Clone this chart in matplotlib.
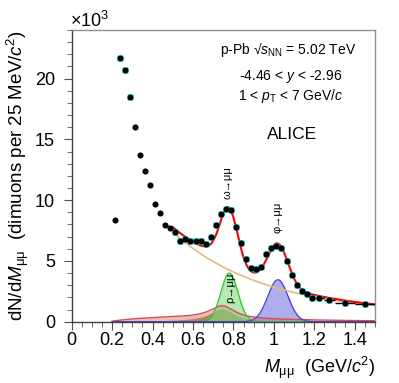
import numpy as np
import matplotlib
matplotlib.use("Agg")
import matplotlib.pyplot as plt
from matplotlib.ticker import MultipleLocator, FixedLocator

plt.rcParams['font.family'] = ['Liberation Sans', 'DejaVu Sans']
plt.rcParams['mathtext.fontset'] = 'custom'
plt.rcParams['mathtext.rm'] = 'Liberation Sans'
plt.rcParams['mathtext.it'] = 'Liberation Sans:italic'
plt.rcParams['mathtext.bf'] = 'Liberation Sans:bold'

# ---------------- data (counts in units of 10^3) ----------------
mass = [0.2125, 0.2375, 0.2625, 0.2875, 0.3125, 0.3375, 0.3625, 0.3875,
        0.4125, 0.4375, 0.4625, 0.4875, 0.5125, 0.5375, 0.5625, 0.5875,
        0.6125, 0.6375, 0.6625, 0.6875, 0.7125, 0.7375, 0.7625, 0.7875,
        0.8125, 0.8375, 0.8625, 0.8875, 0.9125, 0.9375, 0.9625, 0.9875,
        1.0125, 1.0375, 1.0625, 1.0875, 1.1125, 1.1375, 1.1625, 1.1875,
        1.225, 1.275, 1.35, 1.45]
counts = [8.37, 21.72, 20.67, 18.48, 15.99, 13.73, 12.39, 11.24,
          9.71, 8.93, 7.96, 7.74, 7.41, 6.65, 6.83, 6.66,
          6.65, 6.65, 6.40, 6.96, 7.92, 8.85, 9.25, 9.15,
          7.79, 6.50, 5.15, 4.46, 4.35, 4.47, 5.60, 6.10,
          6.22, 6.04, 5.03, 3.83, 3.03, 2.50, 2.29, 1.93,
          1.98, 1.77, 1.52, 1.49]
bin_halfwidth = [0.0] * 40 + [0.025, 0.025, 0.05, 0.05]
highlighted = [False, True, True, True] + [False] * 8 + [True] * 32

# fit model parameters
bkg_par = [20.3, 2.2, 0.6]          # A, slope, constant
rho_par = [1.05, 0.745, 0.15]       # height, mass, width
dalitz_par = [2.3, 0.2, 0.35]       # amplitude, threshold, scale
omega_par = [4.0, 0.78, 0.042]      # height, mass, sigma
phi_par = [3.45, 1.02, 0.05]        # height, mass, sigma
fit_range = [0.5, 1.5]
comp_range = [0.2, 1.5]


def bkg(m):
    return bkg_par[0] * np.exp(-bkg_par[1] * m) + bkg_par[2]


def rho(m):
    M, G = rho_par[1], rho_par[2]
    bw = (M * G) ** 2 / ((m ** 2 - M ** 2) ** 2 + (M * G) ** 2)
    return rho_par[0] * bw


def dalitz(m):
    t = np.clip(m - dalitz_par[1], 0, None)
    return dalitz_par[0] * t * np.exp(-t / dalitz_par[2])


def gauss(m, p):
    return p[0] * np.exp(-0.5 * ((m - p[1]) / p[2]) ** 2)


fig = plt.figure(figsize=(3.99, 3.83), dpi=100)
ax = fig.add_axes([0.1797, 0.160, 0.7601, 0.7617])

mc = np.linspace(comp_range[0], comp_range[1], 600)
pink = rho(mc) + dalitz(mc)
ax.fill_between(mc, 0, pink, color='#e07878', alpha=0.5, lw=0)
ax.plot(mc, pink, color='#e04848', lw=1.0)
ax.fill_between(mc, 0, rho(mc), color='#a88050', alpha=0.9, lw=0)

om = gauss(mc, omega_par)
ax.fill_between(mc, 0, om, color='#80dc80', alpha=0.6, lw=0)
ax.plot(mc, om, color='#40c040', lw=1.0)

ph = gauss(mc, phi_par)
ax.fill_between(mc, 0, ph, color='#7878e0', alpha=0.6, lw=0)
ax.plot(mc, ph, color='#4848d8', lw=1.0)

mf = np.linspace(fit_range[0], fit_range[1], 500)
ax.plot(mf, bkg(mf), color='#e8b878', lw=1.2)
total = bkg(mf) + rho(mf) + dalitz(mf) + gauss(mf, omega_par) + gauss(mf, phi_par)
ax.plot(mf, total, color='#ff0000', lw=1.5, zorder=4)

mass_a = np.array(mass)
cnt_a = np.array(counts)
hl = np.array(highlighted)
ax.errorbar(mass_a, cnt_a, xerr=bin_halfwidth, fmt='none', ecolor='black',
            elinewidth=1.0, zorder=5)
ax.plot(mass_a[hl], cnt_a[hl], 's', ms=4.6, color='#00e0e0', mec='none', zorder=5)
ax.plot(mass_a, cnt_a, 'o', ms=4.4, color='black', mec='none', zorder=6)

ax.set_xlim(0, 1.5)
ax.set_ylim(0, 24)
ax.xaxis.set_major_locator(FixedLocator([0, 0.2, 0.4, 0.6, 0.8, 1.0, 1.2, 1.4]))
ax.set_xticklabels(['0', '0.2', '0.4', '0.6', '0.8', '1', '1.2', '1.4'])
ax.xaxis.set_minor_locator(MultipleLocator(0.05))
ax.yaxis.set_major_locator(FixedLocator([0, 5, 10, 15, 20]))
ax.yaxis.set_minor_locator(MultipleLocator(1))
ax.tick_params(which='both', direction='out', top=False, right=False,
               labelsize=13, color='#505050')
ax.tick_params(axis='x', which='major', length=6, pad=1.5)
ax.tick_params(axis='y', which='major', length=6, pad=6)
ax.tick_params(which='minor', length=3.5)
for s in ['left', 'bottom']:
    ax.spines[s].set_color('#404040')
for s in ['top', 'right']:
    ax.spines[s].set_color('#909090')
for s in ax.spines.values():
    s.set_linewidth(1.0)

fig.text(0.176, 0.944, r'$\times$10$^{3}$', fontsize=13, ha='left', va='center')
ax.set_ylabel(r'dN/d$M_{\mathrm{\mu\mu}}$  (dimuons per 25 MeV/$c^{2}$)',
              fontsize=13.5, labelpad=3)
ax.set_xlabel(r'$M_{\mathrm{\mu\mu}}$  (GeV/$c^{2}$)', fontsize=13, loc='right',
              labelpad=4)

ax.text(0.713, 0.931, r'p-Pb √$s_{\mathrm{NN}}$ = 5.02 TeV', transform=ax.transAxes,
        fontsize=10, ha='center', va='center')
ax.text(0.723, 0.839, r'-4.46 < $y$ < -2.96', transform=ax.transAxes,
        fontsize=10, ha='center', va='center')
ax.text(0.723, 0.774, r'1 < $p_{\mathrm{T}}$ < 7 GeV/$c$', transform=ax.transAxes,
        fontsize=10, ha='center', va='center')
ax.text(0.725, 0.643, 'ALICE', transform=ax.transAxes,
        fontsize=12.5, ha='center', va='center')

ax.text(0.772, 10.1, 'ω→μμ', rotation=90, fontsize=8, ha='center', va='bottom')
ax.text(1.016, 7.32, 'φ→μμ', rotation=90, fontsize=8, ha='center', va='bottom')
ax.text(0.782, 1.54, 'ρ→μμ', rotation=90, fontsize=8, ha='center', va='bottom', zorder=7)

fig.savefig('out.png', dpi=100)
